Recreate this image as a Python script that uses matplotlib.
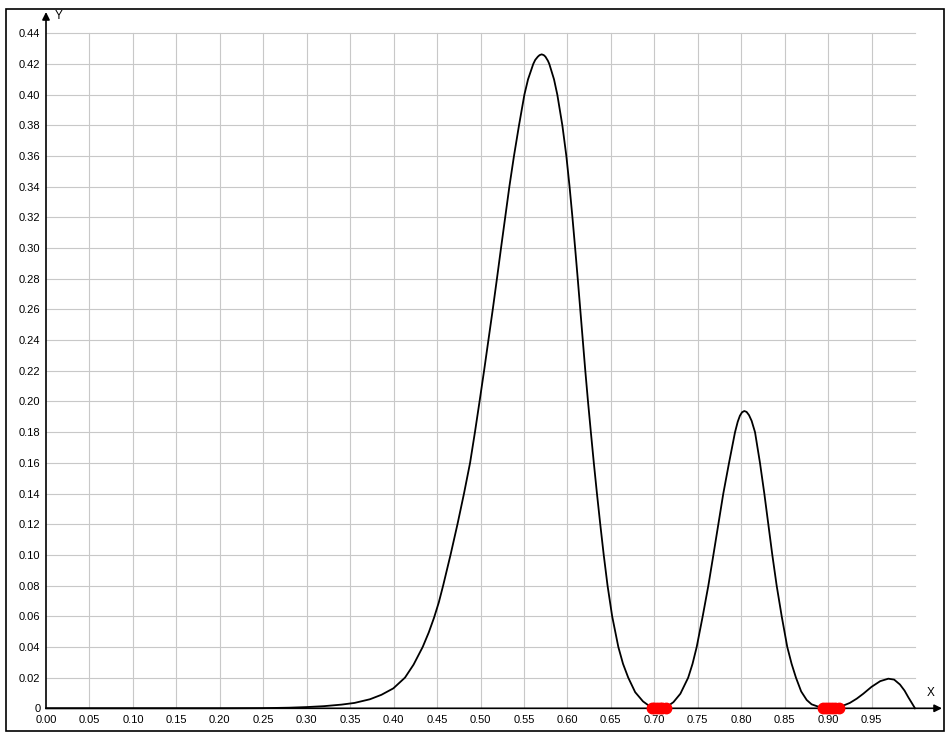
import numpy as np
import matplotlib
matplotlib.use('Agg')
from matplotlib import pyplot as plt
from matplotlib.patches import Rectangle

plt.rcParams['font.family'] = ['Liberation Sans', 'DejaVu Sans']

# curve points
curve_x = [0.000, 0.100, 0.200, 0.250, 0.280, 0.300, 0.320, 0.340, 0.355, 0.3728,
           0.386, 0.3997, 0.4131, 0.4230, 0.4335, 0.4405, 0.4465, 0.4520, 0.4570, 0.4655,
           0.4735, 0.4810, 0.4880, 0.4936, 0.4989, 0.5041, 0.5091, 0.5141, 0.5189, 0.5236,
           0.5284, 0.5332, 0.5385, 0.5443, 0.5505, 0.5547, 0.5607, 0.5630, 0.5660, 0.5680,
           0.5704, 0.5728, 0.5747, 0.5776, 0.5792, 0.5846, 0.5884, 0.5942, 0.5988, 0.6025,
           0.6058, 0.6089, 0.6119, 0.6148, 0.6177, 0.6206, 0.6237, 0.6270, 0.6304, 0.6340,
           0.6378, 0.6418, 0.6462, 0.6515, 0.6586, 0.6640, 0.6700, 0.6780, 0.6870, 0.6950,
           0.7050, 0.7150, 0.7220, 0.7300, 0.7390, 0.7440, 0.7488, 0.7557, 0.7622, 0.7680,
           0.7737, 0.7794, 0.7860, 0.7929, 0.7960, 0.7985, 0.8010, 0.8036, 0.8062, 0.8090,
           0.8120, 0.8159, 0.8216, 0.8266, 0.8312, 0.8358, 0.8408, 0.8466, 0.8530, 0.8580,
           0.8630, 0.8690, 0.8754, 0.8810, 0.8880, 0.9020, 0.9150, 0.9250, 0.9330, 0.9405,
           0.9500, 0.9600, 0.9693, 0.9760, 0.9827, 0.9880, 0.9923, 0.9965, 1.0000]
curve_y = [0.0, 0.0, 0.0, 0.0001, 0.0004, 0.0008, 0.0014, 0.0024, 0.0035, 0.0059,
           0.0088, 0.013, 0.02, 0.0285, 0.040, 0.0495, 0.059, 0.069, 0.080, 0.10,
           0.12, 0.14, 0.16, 0.18, 0.20, 0.22, 0.24, 0.26, 0.28, 0.30,
           0.32, 0.34, 0.36, 0.38, 0.40, 0.41, 0.42, 0.4227, 0.4248, 0.4258,
           0.4263, 0.4258, 0.4248, 0.4221, 0.42, 0.41, 0.40, 0.38, 0.36, 0.34,
           0.32, 0.30, 0.28, 0.26, 0.24, 0.22, 0.20, 0.18, 0.16, 0.14,
           0.12, 0.10, 0.08, 0.06, 0.04, 0.029, 0.02, 0.0105, 0.0045, 0.0012,
           0.0, 0.0012, 0.004, 0.0095, 0.02, 0.029, 0.04, 0.06, 0.08, 0.10,
           0.12, 0.14, 0.16, 0.18, 0.1868, 0.1907, 0.1930, 0.1938, 0.1932, 0.1911,
           0.1874, 0.18, 0.16, 0.14, 0.12, 0.10, 0.08, 0.06, 0.04, 0.029,
           0.02, 0.011, 0.0054, 0.0026, 0.0012, 0.0, 0.0012, 0.0035, 0.0063, 0.0095,
           0.014, 0.0177, 0.0193, 0.0187, 0.0155, 0.0115, 0.0072, 0.0033, 0.0]

# red points on the x axis
root_x = [0.697, 0.700, 0.703, 0.706, 0.709, 0.713,
          0.8945, 0.898, 0.901, 0.905, 0.908, 0.912]
root_y = [0.0] * len(root_x)

x_ticks = [i * 0.05 for i in range(20)]
x_labels = ['%.2f' % v for v in x_ticks]
y_ticks = [i * 0.02 for i in range(23)]
y_labels = ['0'] + ['%.2f' % v for v in y_ticks[1:]]

W, H = 952, 741
fig = plt.figure(figsize=(W / 100, H / 100), dpi=100)
fig.patch.set_facecolor('white')

# outer frame
fig.patches.append(Rectangle((6 / W, (H - 731) / H), 938 / W, 722 / H,
                             transform=fig.transFigure, fill=False,
                             edgecolor='black', lw=1.2))

x_max = (942 - 46) / 869
y_max = (708.3 - 12) / 1534
ax = fig.add_axes([46 / W, (H - 708.3) / H, 896 / W, 696.3 / H])
ax.set_xlim(0, x_max)
ax.set_ylim(0, y_max)
for s in ax.spines.values():
    s.set_visible(False)

# grid
for v in x_ticks[1:]:
    ax.plot([v, v], [0, 0.44], color='#c8c8c8', lw=0.8, zorder=1)
for v in y_ticks[1:]:
    ax.plot([0, 1.0], [v, v], color='#c8c8c8', lw=0.8, zorder=1)

# axes with arrows
ax.annotate('', xy=(x_max, 0), xytext=(0, 0),
            arrowprops=dict(arrowstyle='-|>', color='black', lw=1.2,
                            mutation_scale=11, shrinkA=0, shrinkB=0),
            annotation_clip=False, zorder=3)
ax.annotate('', xy=(0, y_max), xytext=(0, 0),
            arrowprops=dict(arrowstyle='-|>', color='black', lw=1.2,
                            mutation_scale=11, shrinkA=0, shrinkB=0),
            annotation_clip=False, zorder=3)
ax.text(0.0105, y_max - 0.0025, 'Y', fontsize=8.5, ha='left', va='center')
ax.text(1.018, 0.0098, 'X', fontsize=8.5, ha='center', va='center')

ax.plot(curve_x, curve_y, color='black', lw=1.3, zorder=4, clip_on=False,
        solid_joinstyle='round')
ax.plot(root_x, root_y, 'o', color='#ff0000', ms=7.5, mec='#ff0000',
        zorder=5, clip_on=False)

ax.set_xticks(x_ticks)
ax.set_xticklabels(x_labels)
ax.set_yticks(y_ticks)
ax.set_yticklabels(y_labels)
ax.tick_params(axis='both', length=0, labelsize=8)
ax.tick_params(axis='x', pad=5)
ax.tick_params(axis='y', pad=4)

plt.savefig('out.png', dpi=100)
